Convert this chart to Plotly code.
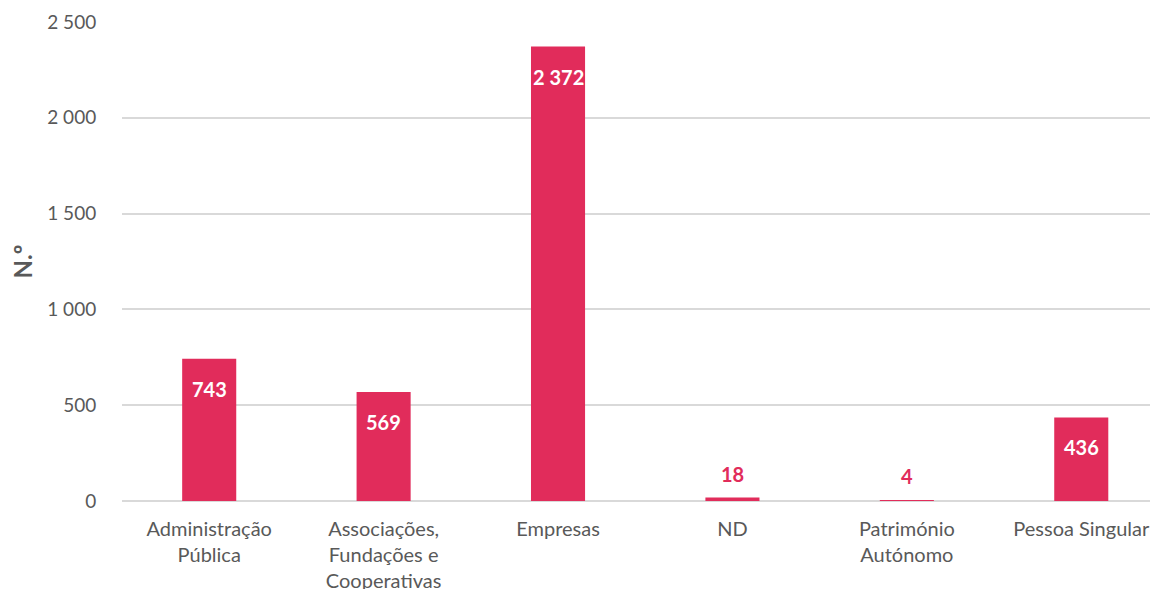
import plotly.graph_objects as go

categories = ["Administração<br>Pública", "Associações,<br>Fundações e<br>Cooperativas", "Empresas", "ND", "Património<br>Autónomo", "Pessoa Singular"]
values = [743, 569, 2372, 18, 4, 436]
labels = ["743", "569", "2 372", "18", "4", "436"]

BAR = "#E12C5B"
GREY = "#595959"
FONT = "Lato"

fig = go.Figure()
fig.add_trace(go.Bar(x=categories, y=values, marker=dict(color=BAR, line=dict(width=0)),
                     hoverinfo="skip"))

for c, v, t in zip(categories, values, labels):
    inside = v > 100
    fig.add_annotation(x=c, y=v, text=f"<b>{t}</b>", showarrow=False,
                       yshift=-30 if inside else 24,
                       font=dict(family=FONT, size=20, color="white" if inside else BAR))

fig.update_layout(
    width=1150, height=581,
    margin=dict(l=114, r=0, t=14, b=88, autoexpand=False),
    plot_bgcolor="white", paper_bgcolor="white",
    bargap=0.69, showlegend=False,
    separators=", ",
    font=dict(family=FONT, color=GREY, size=19),
)
fig.update_yaxes(range=[0, 2500], tickvals=[0, 500, 1000, 1500, 2000, 2500], tickformat=",d",
                 showgrid=True, gridcolor="#D9D9D9", gridwidth=2, zeroline=True,
                 zerolinecolor="#D9D9D9", zerolinewidth=2, showline=False,
                 ticks="outside", ticklen=21, tickcolor="rgba(0,0,0,0)",
                 tickfont=dict(size=19, color=GREY), automargin=False,
                 title=dict(text="<b>N.º</b>", font=dict(size=24, color=GREY), standoff=18))
fig.update_xaxes(showline=False, showgrid=False, ticks="outside", ticklen=10,
                 range=[-0.5, 5.44],
                 tickcolor="rgba(0,0,0,0)", tickfont=dict(size=20, color=GREY), automargin=False)

fig.write_html("out.html")
